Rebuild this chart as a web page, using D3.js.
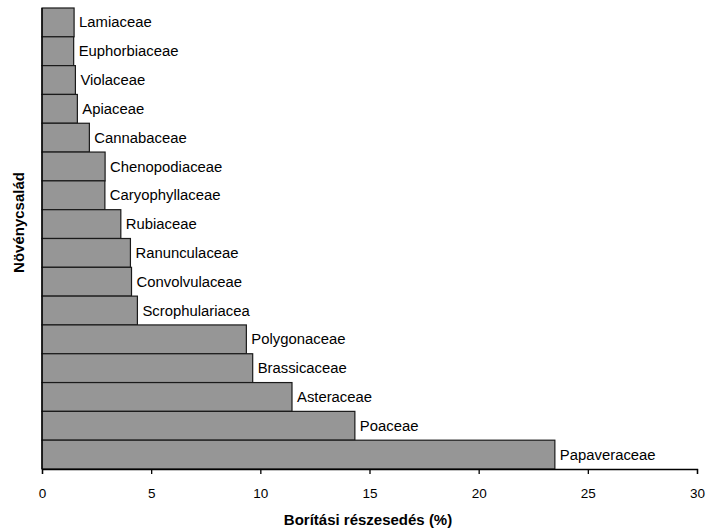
<!DOCTYPE html>
<html><head><meta charset="utf-8">
<script src="https://cdn.jsdelivr.net/npm/d3@7"></script>
<style>body{margin:0;background:#fff}svg{display:block}text{font-family:"Liberation Sans",Arial,sans-serif}</style>
</head><body>
<svg id="c" width="707" height="531"></svg>
<script>
const categories = ["Lamiaceae","Euphorbiaceae","Violaceae","Apiaceae","Cannabaceae","Chenopodiaceae","Caryophyllaceae","Rubiaceae","Ranunculaceae","Convolvulaceae","Scrophulariacea","Polygonaceae","Brassicaceae","Asteraceae","Poaceae","Papaveraceae"];
const values = [1.47,1.45,1.53,1.62,2.17,2.89,2.88,3.61,4.05,4.1,4.37,9.36,9.65,11.45,14.33,23.49];
const xTicks = [0,5,10,15,20,25,30];
const xTitle = "Borítási részesedés (%)";
const yTitle = "Növénycsalád";

const svg = d3.select("#c");
const mLeft = 42, mRight = 697, mTop = 8, mBottom = 469;
const x = d3.scaleLinear().domain([0,30]).range([mLeft,mRight]);
const y = d3.scaleBand().domain(categories).range([mTop,mBottom]).padding(0);

svg.append("g").selectAll("rect").data(categories).join("rect")
  .attr("x", x(0)).attr("y", d=>y(d))
  .attr("width", (d,i)=>x(values[i])-x(0)).attr("height", y.bandwidth())
  .attr("fill","#969696").attr("stroke","#1a1a1a").attr("stroke-width",1.2);

const labels = svg.append("g").selectAll("text").data(categories).join("text")
  .attr("x",(d,i)=>x(values[i])+5).attr("y",d=>y(d)+y.bandwidth()/2)
  .attr("dy","0.36em").attr("font-size",14).attr("fill","#000").text(d=>d);
labels.each(function(){
  const w = this.getComputedTextLength();
  d3.select(this).attr("textLength", w*1.06).attr("lengthAdjust","spacingAndGlyphs");
});

const ax = svg.append("g").attr("transform",`translate(0,${mBottom})`)
  .call(d3.axisBottom(x).tickValues(xTicks).tickSize(5).tickPadding(14).tickFormat(d3.format("d")));
ax.select(".domain").attr("stroke","#000").attr("stroke-width",1.3);
ax.selectAll(".tick line").attr("stroke","#000").attr("stroke-width",1.3);
ax.selectAll(".tick text").attr("font-size",13.5).attr("font-family","Liberation Sans, Arial, sans-serif").attr("fill","#000");

svg.append("line").attr("x1",mLeft).attr("x2",mLeft).attr("y1",mTop).attr("y2",mBottom).attr("stroke","#000").attr("stroke-width",1.3);

svg.append("text").attr("x",368).attr("y",525).attr("text-anchor","middle")
  .attr("font-size",15).attr("font-weight","bold").text(xTitle);
svg.append("text").attr("transform","translate(24,222.5) rotate(-90)").attr("text-anchor","middle")
  .attr("font-size",15).attr("font-weight","bold").text(yTitle);
</script>
</body></html>
